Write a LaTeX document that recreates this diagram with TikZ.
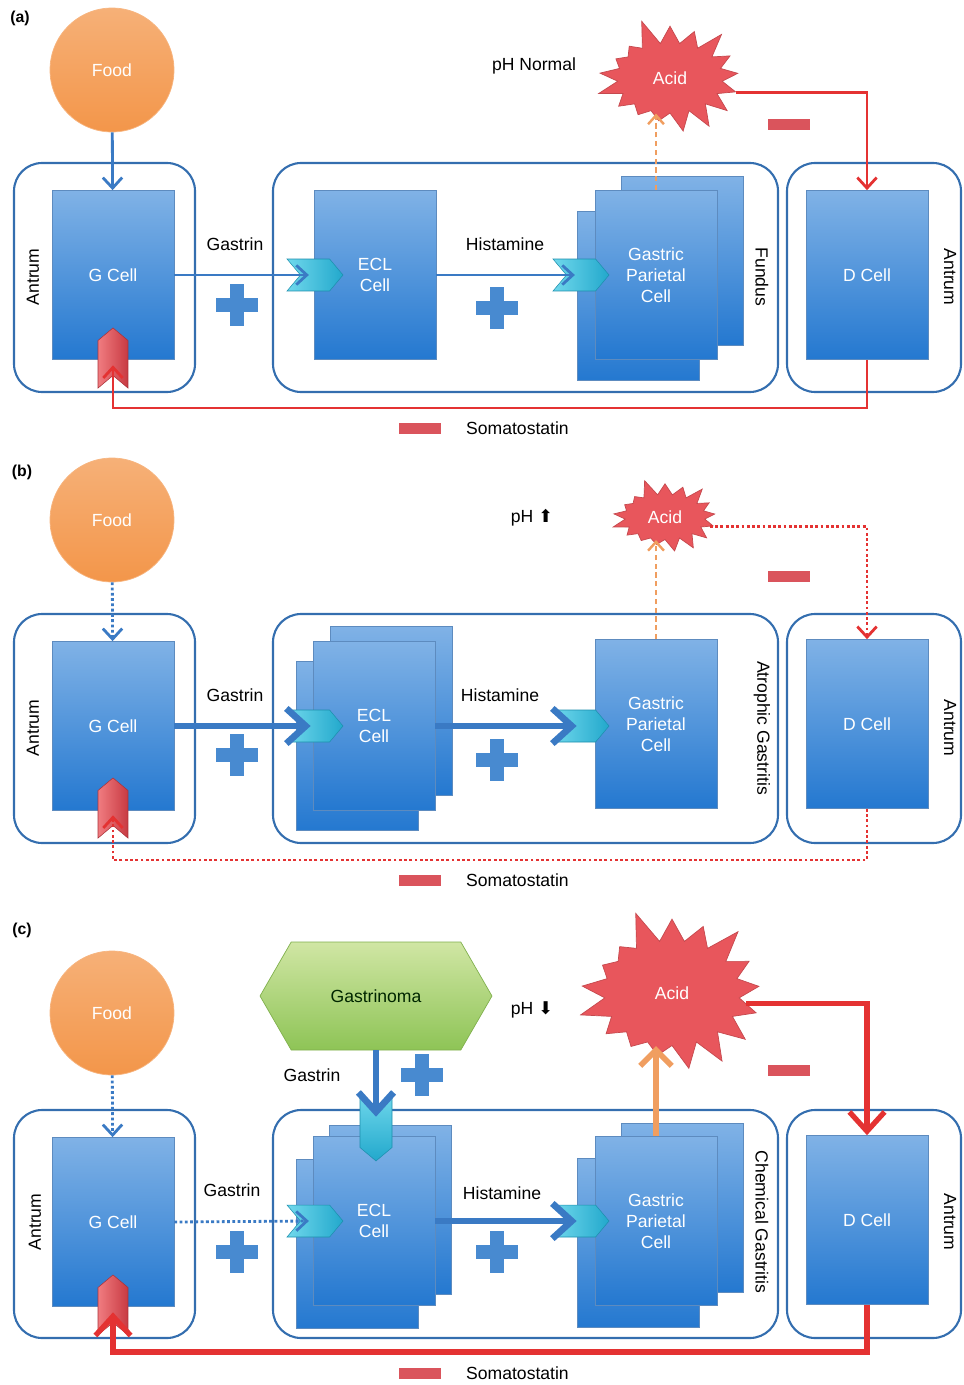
\documentclass[tikz,border=0pt]{standalone}
\usepackage{fontspec}
\setmainfont{Liberation Sans}
\newfontfamily\arrowfont{DejaVu Sans}
\usetikzlibrary{arrows.meta,shapes.symbols}

\definecolor{boxblue}{RGB}{52,110,175}
\definecolor{celltop}{RGB}{128,178,230}
\definecolor{cellbot}{RGB}{36,120,208}
\definecolor{sigblue}{RGB}{58,122,196}
\definecolor{plusblue}{RGB}{72,138,208}
\definecolor{negred}{RGB}{228,50,50}
\definecolor{barred}{RGB}{218,84,92}
\definecolor{acidred}{RGB}{232,86,92}
\definecolor{foodorange}{RGB}{243,150,74}
\definecolor{flowor}{RGB}{240,158,96}
\definecolor{rcptop}{RGB}{112,216,236}
\definecolor{rcpbot}{RGB}{34,168,204}
\definecolor{redtop}{RGB}{240,124,128}
\definecolor{redbot}{RGB}{200,58,66}
\definecolor{gastop}{RGB}{208,230,164}
\definecolor{gasbot}{RGB}{142,196,86}

\tikzset{
  region/.style={draw=boxblue,line width=1.2pt,rounded corners=16pt},
  cell/.style={rectangle,draw=boxblue!80,line width=0.4pt,top color=celltop,bottom color=cellbot,
    minimum width=2.44cm,minimum height=3.38cm,text=white,align=center,inner sep=0pt},
  food/.style={circle,draw=foodorange!70!white,top color=foodorange!75!white,bottom color=foodorange,
    minimum size=2.48cm,text=white},
  acid/.style={starburst,starburst points=17,random starburst=5,fill=acidred,draw=acidred!85!black,
    line width=0.4pt,text=white,inner sep=0pt},
  rcpright/.style={signal,signal to=east,signal from=west,signal pointer angle=100,left color=rcptop,
    right color=rcpbot,draw=rcpbot!85!black,line width=0.3pt,minimum width=1.12cm,minimum height=0.64cm,inner sep=0pt},
  rcpdown/.style={signal,signal to=south,signal from=north,signal pointer angle=100,top color=rcptop,
    bottom color=rcpbot,draw=rcpbot!85!black,line width=0.3pt,minimum width=0.64cm,minimum height=0.82cm,inner sep=0pt},
  rcpup/.style={signal,signal to=north,signal from=south,signal pointer angle=100,left color=redtop,
    right color=redbot,draw=redbot!85!black,line width=0.3pt,minimum width=0.6cm,minimum height=0.7cm,inner sep=0pt},
  gastrinoma/.style={signal,signal to=east and west,signal pointer angle=120,top color=gastop,bottom color=gasbot,
    draw=gasbot!90!black,line width=0.4pt,minimum width=4.64cm,minimum height=2.16cm,text=black!85!green},
  minus/.style={rectangle,fill=barred,minimum width=0.84cm,minimum height=0.22cm,inner sep=0pt},
  tag/.style={font=\bfseries\small},
  lbl/.style={text=black},
  sig/.style={draw=sigblue,line width=1.6pt,-{Straight Barb[length=6pt,width=11pt]}},
  sigfat/.style={draw=sigblue,line width=3.8pt,-{Straight Barb[length=11pt,width=20pt]}},
  sigdot/.style={sig,dash pattern=on 1.6pt off 1.4pt},
  acidflow/.style={draw=flowor,line width=1.4pt,dash pattern=on 3pt off 2pt,-{Straight Barb[length=5pt,width=9pt]}},
  acidfat/.style={draw=flowor,line width=3.2pt,-{Straight Barb[length=9pt,width=18pt]}},
  negline/.style={draw=negred,line width=1.6pt,-{Straight Barb[length=6pt,width=11pt]}},
  negdot/.style={negline,dash pattern=on 1.6pt off 1.4pt},
  negfat/.style={draw=negred,line width=3pt,-{Straight Barb[length=11pt,width=20pt]}},
  plus/.pic={\fill[plusblue] (-21,-7) rectangle (21,7); \fill[plusblue] (-7,-21) rectangle (7,21);}
}

\begin{document}
\begin{tikzpicture}[x=0.02cm,y=-0.02cm]
    \useasboundingbox (0,0) rectangle (963,1385);

    % (a) normal
    \node[tag] (tagA) at (20,18) {(a)};
    \node[food] (foodA) at (112,70) {Food};
    \draw[region] (14,163) rectangle (195,392);
    \draw[region] (273,163) rectangle (778,392);
    \draw[region] (787,163) rectangle (961,392);
    \node[rotate=90] (antA1) at (33,277) {Antrum};
    \node[rotate=-90] (funA) at (762,277) {Fundus};
    \node[rotate=-90] (antA2) at (950,277) {Antrum};

    \node[cell] (gcA) at (113,275) {G Cell};
    \node[cell] (eclA) at (375,275) {ECL\\Cell};
    \node[cell] (pcA1) at (682,261) {};
    \node[cell] (pcA2) at (638,296) {};
    \node[cell] (pcA) at (656,275) {Gastric\\Parietal\\Cell};
    \node[cell] (dcA) at (867,275) {D Cell};

    \node[rcpright] (rEclA) at (315,275) {};
    \node[rcpright] (rPcA) at (581,275) {};
    \node[rcpup] (rGA) at (113,358) {};

    \node[acid,minimum width=3.2cm,minimum height=2.5cm,starburst point height=0.55cm] (acidA) at (670,78) {Acid};
    \node[lbl] (phA) at (534,66) {pH Normal};
    \node[minus] (mA1) at (789,125) {};

    \node[lbl] (gasA) at (235,244) {Gastrin};
    \node[lbl] (hisA) at (505,244) {Histamine};
    \pic (pA1) at (237,305) {plus};
    \pic (pA2) at (497,308) {plus};

    \draw[sig] (foodA) -- (gcA);
    \draw[sig] (gcA.east) -- ([xshift=5pt]rEclA.west);
    \draw[sig] (eclA.east) -- ([xshift=5pt]rPcA.west);
    \draw[acidflow] (pcA.north) -- (pcA.north |- acidA.south);
    \draw[negline] (acidA.-12) -| (dcA.north);
    \coordinate (sA) at (867,408);
    \draw[negline] (dcA.south) -- (sA) -| ([yshift=6pt]rGA.south);
    \node[minus] (mA2) at (420,428) {};
    \node[lbl,anchor=west] (somA) at (460,428) {Somatostatin};

    % (b) atrophic gastritis
    \node[tag] (tagB) at (22,472) {(b)};
    \node[food] (foodB) at (112,520) {Food};
    \draw[region] (14,614) rectangle (195,843);
    \draw[region] (273,614) rectangle (778,843);
    \draw[region] (787,614) rectangle (961,843);
    \node[rotate=90] (antB1) at (33,728) {Antrum};
    \node[rotate=-90] (atrB) at (762,728) {Atrophic Gastritis};
    \node[rotate=-90] (antB2) at (950,728) {Antrum};

    \node[cell] (gcB) at (113,726) {G Cell};
    \node[cell] (eclB1) at (391,711) {};
    \node[cell] (eclB2) at (357,746) {};
    \node[cell] (eclB) at (374,726) {ECL\\Cell};
    \node[cell] (pcB) at (656,724) {Gastric\\Parietal\\Cell};
    \node[cell] (dcB) at (867,724) {D Cell};

    \node[rcpright] (rEclB) at (315,726) {};
    \node[rcpright] (rPcB) at (581,726) {};
    \node[rcpup] (rGB) at (113,808) {};

    \node[acid,minimum width=2.3cm,minimum height=1.6cm,starburst point height=0.35cm] (acidB) at (665,517) {Acid};
    \node[lbl] (phB) at (532,518) {pH {\arrowfont ⬆}};
    \node[minus] (mB1) at (789,576) {};

    \node[lbl] (gasB) at (235,695) {Gastrin};
    \node[lbl] (hisB) at (500,695) {Histamine};
    \pic (pB1) at (237,755) {plus};
    \pic (pB2) at (497,760) {plus};

    \draw[sigdot] (foodB) -- (gcB);
    \draw[sigfat] (gcB.east) -- ([xshift=6pt]rEclB.west);
    \draw[sigfat] (eclB.east) -- ([xshift=6pt]rPcB.west);
    \draw[acidflow] (pcB.north) -- (pcB.north |- acidB.south);
    \draw[negdot] (acidB.-12) -| (dcB.north);
    \coordinate (sB) at (867,860);
    \draw[negdot] (dcB.south) -- (sB) -| ([yshift=6pt]rGB.south);
    \node[minus] (mB2) at (420,880) {};
    \node[lbl,anchor=west] (somB) at (460,880) {Somatostatin};

    % (c) chemical gastritis
    \node[tag] (tagC) at (22,930) {(c)};
    \node[food] (foodC) at (112,1013) {Food};
    \draw[region] (14,1110) rectangle (195,1338);
    \draw[region] (273,1110) rectangle (778,1338);
    \draw[region] (787,1110) rectangle (961,1338);
    \node[rotate=90] (antC1) at (35,1222) {Antrum};
    \node[rotate=-90] (cheC) at (762,1222) {Chemical Gastritis};
    \node[rotate=-90] (antC2) at (950,1222) {Antrum};

    \node[gastrinoma] (gnC) at (376,996) {Gastrinoma};

    \node[cell] (gcC) at (113,1222) {G Cell};
    \node[cell] (eclC1) at (390,1210) {};
    \node[cell] (eclC2) at (357,1244) {};
    \node[cell] (eclC) at (374,1221) {ECL\\Cell};
    \node[cell] (pcC1) at (682,1208) {};
    \node[cell] (pcC2) at (638,1243) {};
    \node[cell] (pcC) at (656,1221) {Gastric\\Parietal\\Cell};
    \node[cell] (dcC) at (867,1220) {D Cell};

    \node[rcpright] (rEclC) at (315,1221) {};
    \node[rcpdown] (rGnC) at (376,1127) {};
    \node[rcpright] (rPcC) at (581,1221) {};
    \node[rcpup] (rGC) at (113,1305) {};

    \node[acid,minimum width=4.1cm,minimum height=3.5cm,starburst point height=0.7cm] (acidC) at (672,993) {Acid};
    \node[lbl] (phC) at (532,1010) {pH {\arrowfont ⬇}};
    \node[minus] (mC1) at (789,1070) {};

    \node[lbl] (gasC1) at (312,1075) {Gastrin};
    \node[lbl] (gasC2) at (232,1190) {Gastrin};
    \node[lbl] (hisC) at (502,1193) {Histamine};
    \pic (pC0) at (422,1075) {plus};
    \pic (pC1) at (237,1252) {plus};
    \pic (pC2) at (497,1252) {plus};

    \draw[sigdot] (foodC) -- (gcC);
    \draw[sigfat] (gnC.south) -- ([yshift=-6pt]rGnC.north);
    \draw[sigdot] (gcC.east) -- ([xshift=5pt]rEclC.west);
    \draw[sigfat] (eclC.east) -- ([xshift=6pt]rPcC.west);
    \draw[acidfat] (pcC.north) -- (pcC.north |- acidC.south);
    \draw[negfat] (acidC.-8) -| (dcC.north);
    \coordinate (sC) at (867,1352);
    \draw[negfat] (dcC.south) -- (sC) -| ([yshift=6pt]rGC.south);
    \node[minus] (mC2) at (420,1373) {};
    \node[lbl,anchor=west] (somC) at (460,1373) {Somatostatin};
\end{tikzpicture}
\end{document}
